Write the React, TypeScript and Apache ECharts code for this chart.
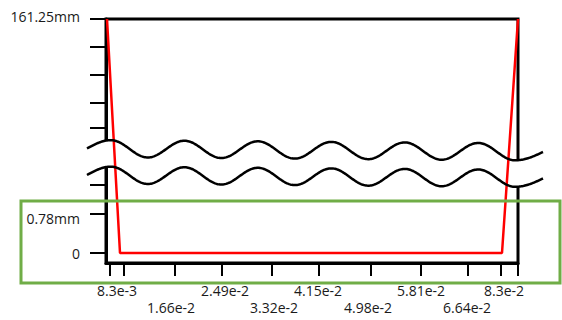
import React, { useEffect, useRef } from "react";
import * as echarts from "echarts";

// ---------------- data ----------------
const xTickLabels = ["8.3e-3", "1.66e-2", "2.49e-2", "3.32e-2", "4.15e-2", "4.98e-2", "5.81e-2", "6.64e-2", "8.3e-2"];
const yTickLabels = ["0", "0.78mm", "161.25mm"];
const yTickValues = [0, 0.78, 161.25];
// red profile (x, depth in mm)
const profileX = [0, 8.3e-3, 8.3e-2, 9.13e-2];
const profileY = [161.25, 0, 0, 161.25];

// ---------------- schematic (broken) axis scales: real value -> axis unit ----------------
const X_SCALE: [number, number][] = [[0, 1], [8.3e-3, 14], [8.3e-2, 396], [9.13e-2, 412]];
const Y_SCALE: [number, number][] = [[0, 10], [0.78, 49], [161.25, 244]];
const X_SPAN = 412;
const Y_SPAN = 244;
// layout of axis decorations (axis units)
const X_TICK_POS = [4, 18, 69, 116, 166, 213, 265, 315, 362, 395, 412];
const X_LABEL_POS = [11, 65, 119, 168, 212, 262, 315, 361, 398];
const Y_EXTRA_TICKS = [78, 135, 160, 188, 216];

function piecewise(table: [number, number][], v: number) {
  for (let i = 0; i < table.length - 1; i++) {
    const [a0, b0] = table[i];
    const [a1, b1] = table[i + 1];
    if (v <= a1 || i === table.length - 2) {
      return b0 + ((v - a0) * (b1 - b0)) / (a1 - a0);
    }
  }
  return table[0][1];
}
const sx = (v: number) => piecewise(X_SCALE, v);
const sy = (v: number) => piecewise(Y_SCALE, v);

// decorative break waves (pixel space)
const PHASE: [number, number][] = [[87, 0], [111, Math.PI / 2], [515, 11.5 * Math.PI], [543, 12 * Math.PI]];
function wave(c0: number, c1: number, amp: number) {
  const pts: number[][] = [];
  for (let x = 87; x <= 543; x += 1) {
    const phi = piecewise(PHASE, x);
    const c = c0 + ((c1 - c0) * (x - 87)) / (543 - 87);
    pts.push([x, c - amp * Math.sin(phi)]);
  }
  return pts;
}

export default function App() {
  const ref = useRef<HTMLDivElement>(null);
  useEffect(() => {
    if (!ref.current) return;
    const chart = echarts.init(ref.current, null, { renderer: "svg" });
    const upper = wave(148.5, 152, 8.5);
    const lower = wave(175, 178.5, 8.5);
    const mask = upper.concat(lower.slice().reverse());
    const yLabelPos = yTickValues.map(sy);
    const font = { fontFamily: "Open Sans", fontSize: 14, color: "#1a1a1a" };

    chart.setOption({
      animation: false,
      backgroundColor: "#fff",
      grid: {
        left: 106,
        top: 19,
        width: 412,
        height: 244,
        show: true,
        borderColor: "#000",
        borderWidth: 3,
        backgroundColor: "transparent",
      },
      xAxis: {
        type: "value",
        min: 0,
        max: X_SPAN,
        splitLine: { show: false },
        axisLine: { show: true, lineStyle: { color: "#000", width: 3 } },
        axisTick: {
          show: true,
          length: 13,
          customValues: X_TICK_POS,
          lineStyle: { color: "#000", width: 2 },
        },
        axisLabel: {
          show: true,
          margin: 20,
          customValues: X_LABEL_POS,
          formatter: (v: number) => {
            const i = X_LABEL_POS.findIndex((p) => Math.abs(p - v) < 1e-6);
            if (i < 0) return "";
            return i % 2 === 0 ? `{a|${xTickLabels[i]}}` : `{b|${xTickLabels[i]}}`;
          },
          rich: {
            a: { ...font },
            b: { ...font, padding: [17, 0, 0, 0] },
          },
        },
      },
      yAxis: {
        type: "value",
        min: 0,
        max: Y_SPAN,
        splitLine: { show: false },
        axisLine: { show: true, lineStyle: { color: "#000", width: 3 } },
        axisTick: {
          show: true,
          length: 16,
          customValues: yLabelPos.concat(Y_EXTRA_TICKS),
          lineStyle: { color: "#000", width: 2 },
        },
        axisLabel: {
          show: true,
          margin: 26,
          customValues: yLabelPos,
          formatter: (v: number) => {
            const i = yLabelPos.findIndex((p) => Math.abs(p - v) < 1e-6);
            if (i < 0) return "";
            const k = i === 0 ? "z" : i === 1 ? "m" : "t";
            return `{${k}|${yTickLabels[i]}}`;
          },
          rich: {
            z: { ...font },
            m: { ...font, padding: [8, 0, 0, 0] },
            t: { ...font, padding: [0, 0, 6, 0] },
          },
        },
      },
      series: [
        {
          type: "line",
          z: 2,
          data: profileX.map((x, i) => [sx(x), sy(profileY[i])]),
          showSymbol: false,
          clip: false,
          lineStyle: { color: "#ff0000", width: 2.5 },
          itemStyle: { color: "#ff0000" },
        },
      ],
      graphic: [
        {
          type: "polygon",
          z: 1,
          silent: true,
          shape: { points: mask },
          style: { fill: "#ffffff", stroke: null },
        },
        {
          type: "polyline",
          z: 10,
          silent: true,
          shape: { points: upper },
          style: { stroke: "#000", lineWidth: 2.5, fill: null },
        },
        {
          type: "polyline",
          z: 10,
          silent: true,
          shape: { points: lower },
          style: { stroke: "#000", lineWidth: 2.5, fill: null },
        },
        {
          type: "rect",
          z: 11,
          silent: true,
          shape: { x: 21, y: 201, width: 539, height: 82 },
          style: { stroke: "#70ad47", lineWidth: 3, fill: null },
        },
      ],
    });
    return () => chart.dispose();
  }, []);

  return (
    <div
      ref={ref}
      style={{ position: "fixed", left: 0, top: 0, width: 562, height: 320 }}
    />
  );
}
